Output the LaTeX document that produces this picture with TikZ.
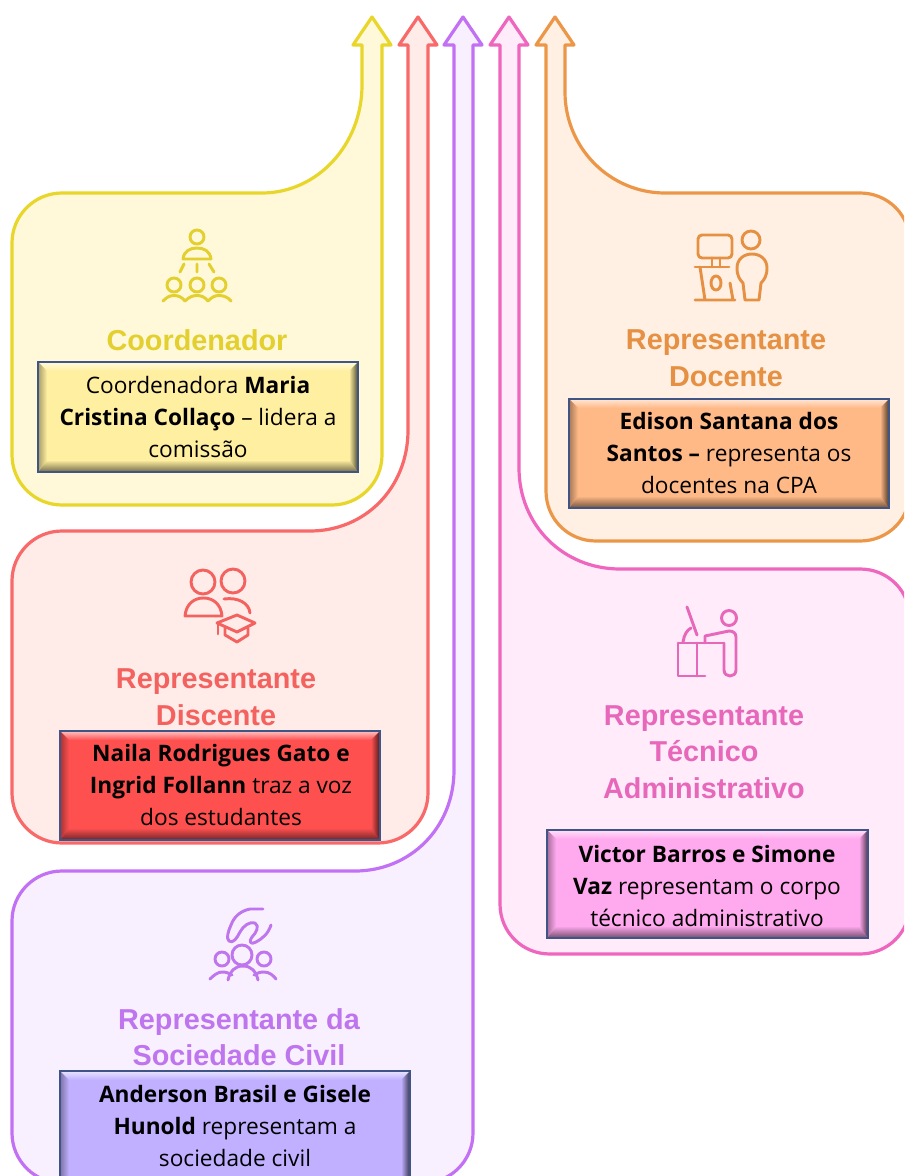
\documentclass[tikz,border=0pt]{standalone}
\usepackage{fontspec}
\setmainfont{Open Sans}
\newfontfamily\headfont{Liberation Sans}
\definecolor{yelS}{HTML}{E8D62A}\definecolor{yelF}{HTML}{FFF8D9}\definecolor{yelT}{HTML}{E3CF2E}\definecolor{yelB}{HTML}{FFEFA0}
\definecolor{redS}{HTML}{F8696A}\definecolor{redF}{HTML}{FFECE9}\definecolor{redT}{HTML}{F4625F}\definecolor{redB}{HTML}{FF5050}
\definecolor{purS}{HTML}{C271F5}\definecolor{purF}{HTML}{F9F0FF}\definecolor{purT}{HTML}{BE75EE}\definecolor{purB}{HTML}{C0B0FF}
\definecolor{pnkS}{HTML}{EE66BD}\definecolor{pnkF}{HTML}{FFEBF9}\definecolor{pnkT}{HTML}{E768BA}\definecolor{pnkB}{HTML}{FFA9EE}
\definecolor{orgS}{HTML}{EC9748}\definecolor{orgF}{HTML}{FFF0E3}\definecolor{orgT}{HTML}{E59042}\definecolor{orgB}{HTML}{FFB986}
\definecolor{edgeblue}{HTML}{3F5586}
\tikzset{
  panel/.style={line width=2.4pt,line join=round},
  icon/.style={line width=2.2pt,line cap=round,line join=round,draw=#1},
  head/.style={font=\headfont\fontsize{21.6}{27.4}\selectfont\bfseries,text=#1,align=center,inner sep=0pt},
  body/.style={font=\fontsize{17}{24}\selectfont,text=black,align=center,inner sep=0pt},
}
% bevelled box: x1 y1 x2 y2 fill
\newcommand\bevbox[5]{%
  \fill[#5] (#1,#2) rectangle (#3,#4);
  \shade[top color=#5!35!white,bottom color=#5] (#1,#2) -- (#3,#2) -- (#3-9,#2+9) -- (#1+9,#2+9) -- cycle;
  \shade[top color=#5,bottom color=#5!45!black] (#1+9,#4-12) -- (#3-9,#4-12) -- (#3,#4) -- (#1,#4) -- cycle;
  \shade[left color=#5!65!black,right color=#5] (#1,#2) -- (#1+9,#2+9) -- (#1+9,#4-12) -- (#1,#4) -- cycle;
  \shade[left color=#5,right color=#5!30!black] (#3-9,#2+9) -- (#3,#2) -- (#3,#4) -- (#3-9,#4-12) -- cycle;
  \draw[edgeblue,line width=1.8pt] (#1,#2) rectangle (#3,#4);
}
\begin{document}
\begin{tikzpicture}[x=0.75pt,y=-0.75pt]
\useasboundingbox (0,0) rectangle (904,1176);
\clip (0,0) rectangle (904,1176);
\fill[white] (0,0) rectangle (904,1176);
% yellow
\draw[panel,draw=yelS,fill=yelF] (372,17)--(391,45)--(382,45)--(382,455) .. controls (382,482.6) and (359.6,505) .. (332,505)--(62,505) .. controls (34.4,505) and (12,482.6) .. (12,455)--(12,243) .. controls (12,215.4) and (34.4,193) .. (62,193)--(262,193) .. controls (317,193) and (362,145) .. (362,85)--(362,45)--(353,45)--cycle;
% red
\draw[panel,draw=redS,fill=redF] (418,17)--(437,45)--(428,45)--(428,793) .. controls (428,820.6) and (405.6,843) .. (378,843)--(62,843) .. controls (34.4,843) and (12,820.6) .. (12,793)--(12,581) .. controls (12,553.4) and (34.4,531) .. (62,531)--(310,531) .. controls (365,531) and (408,488) .. (408,430)--(408,45)--(399,45)--cycle;
% purple
\draw[panel,draw=purS,fill=purF] (463,17)--(482,45)--(473,45)--(473,1133) .. controls (473,1160.6) and (450.6,1183) .. (423,1183)--(62,1183) .. controls (34.4,1183) and (12,1160.6) .. (12,1133)--(12,921) .. controls (12,893.4) and (34.4,871) .. (62,871)--(355,871) .. controls (410,871) and (454,828) .. (454,770)--(454,45)--(444,45)--cycle;
% pink
\draw[panel,draw=pnkS,fill=pnkF] (509,17)--(528,45)--(519,45)--(519,468) .. controls (519,525) and (563,569) .. (620,569)--(860,569) .. controls (888,569) and (910,591) .. (910,619)--(910,904) .. controls (910,932) and (888,954) .. (860,954)--(550,954) .. controls (522,954) and (500,932) .. (500,904)--(500,45)--(490,45)--cycle;
% orange
\draw[panel,draw=orgS,fill=orgF] (555,17)--(574,45)--(565,45)--(565,92) .. controls (565,148) and (610,193) .. (665,193)--(860,193) .. controls (888,193) and (910,215) .. (910,243)--(910,491) .. controls (910,519) and (888,541) .. (860,541)--(596,541) .. controls (568,541) and (546,519) .. (546,491)--(546,45)--(536,45)--cycle;

% icon yellow
\begin{scope}[icon=yelT]
\draw (197,237) circle (7);
\draw (183,259) .. controls (184,251) and (190,248) .. (197,248) .. controls (204,248) and (210,251) .. (211,259) -- cycle;
\draw (184,264)--(180,272) (197,264)--(197,272) (209,264)--(214,272);
\draw (174,285) circle (7) (197,285) circle (7) (219,285) circle (7);
\draw (163,301) .. controls (167,297) and (170,295.5) .. (174,295.5) .. controls (178,295.5) and (182,297) .. (185,301) .. controls (189,297) and (193,295.5) .. (197,295.5) .. controls (201,295.5) and (205,297) .. (208,301) .. controls (212,297) and (215,295.5) .. (219,295.5) .. controls (223,295.5) and (228,297) .. (231,301);
\end{scope}
% icon orange
\begin{scope}[icon=orgT]
\draw[rounded corners=3pt] (698,235) rectangle (732,258);
\draw (712,258)--(712,267) (720,258)--(720,267) (695,267)--(729,267);
\draw (700,267)--(705,300) (695,300)--(735,300) (730,283)--(733,300);
\draw (716,283) ellipse (5 and 7);
\draw (751,240) circle (9);
\draw (745,300) -- (743,283) .. controls (740,280) and (737,276) .. (737,268) .. controls (737,259) and (744,254) .. (752,254) .. controls (760,254) and (767,259) .. (767,268) .. controls (767,276) and (764,280) .. (761,283) -- (759,300) -- cycle;
\end{scope}
% icon red
\begin{scope}[icon=redT]
\draw (203,582) circle (12) (233,581) circle (12);
\draw (185,616) .. controls (186,604) and (194,598) .. (203.5,598) .. controls (213,598) and (221,604) .. (222,616) -- cycle;
\draw (224,599) .. controls (238,597) and (249,603) .. (250,613);
\draw (217,623)--(237,615)--(255,623)--(237,632)--cycle;
\draw (225,628)--(225,635)--(237,642)--(248,635)--(248,628);
\draw (218,624)--(218,634);
\end{scope}
% icon pink
\begin{scope}[icon=pnkT]
\draw (687,607)--(697,635);
\draw (683,642) .. controls (684,635) and (687,630) .. (691,628);
\draw (678,643)--(723,643) (678,643)--(678,676)--(705,676) (697,643)--(697,676);
\draw (729,618) circle (7.5);
\draw (705,643)--(705,636)--(729,631) .. controls (733,631) and (736,633) .. (736,637)--(736,670) .. controls (736,678) and (724,678) .. (724,670)--(724,643);
\end{scope}
% icon purple
\begin{scope}[icon=purT]
\draw (263,909) -- (250,909) .. controls (240,911) and (234,917) .. (231,925) .. controls (228,932) and (226,938) .. (229,941) .. controls (233,944) and (237,938) .. (240,932) .. controls (243,926) and (250,921) .. (255,923) .. controls (260,926) and (256,933) .. (252,937) .. controls (248,942) and (251,945) .. (256,942) .. controls (263,938) and (268,934) .. (271,925);
\draw (242,955) circle (10) (222,959) circle (7) (264,959) circle (7);
\draw (228,980) .. controls (230,971) and (235,966) .. (243,966) .. controls (251,966) and (256,971) .. (258,980);
\draw (210,979) .. controls (214,975) and (218,972) .. (222,972) .. controls (226,972) and (229,973) .. (232,975);
\draw (254,975) .. controls (257,973) and (260,972) .. (264,972) .. controls (269,972) and (273,975) .. (276,979);
\end{scope}

% headings
\node[head=yelT] (hCoord) at (197,340) {Coordenador};
\node[head=orgT] (hDoc) at (726,358) {Representante\\Docente};
\node[head=redT] (hDisc) at (216,697) {Representante\\Discente};
\node[head=pnkT] (hTec) at (704,752) {Representante\\Técnico\\Administrativo};
\node[head=purT] (hSoc) at (239,1037) {Representante da\\Sociedade Civil};

% boxes
\bevbox{38}{362}{358}{472}{yelB}
\bevbox{569}{399}{889}{508}{orgB}
\bevbox{60}{731}{380}{840}{redB}
\bevbox{547}{830}{868}{938}{pnkB}
\bevbox{60}{1071}{410}{1190}{purB}
\node[body] (tCoord) at (198,417) {Coordenadora \textbf{Maria}\\\textbf{Cristina Collaço} – lidera a\\comissão};
\node[body] (tDoc) at (729,453) {\textbf{Edison Santana dos}\\\textbf{Santos –} representa os\\docentes na CPA};
\node[body] (tDisc) at (221,785) {\textbf{Naila Rodrigues Gato e}\\\textbf{Ingrid Follann} traz a voz\\dos estudantes};
\node[body] (tTec) at (707,885.5) {\textbf{Victor Barros e Simone}\\\textbf{Vaz} representam o corpo\\técnico administrativo};
\node[body] (tSoc) at (235,1126) {\textbf{Anderson Brasil e Gisele}\\\textbf{Hunold} representam a\\sociedade civil};
\end{tikzpicture}
\end{document}
